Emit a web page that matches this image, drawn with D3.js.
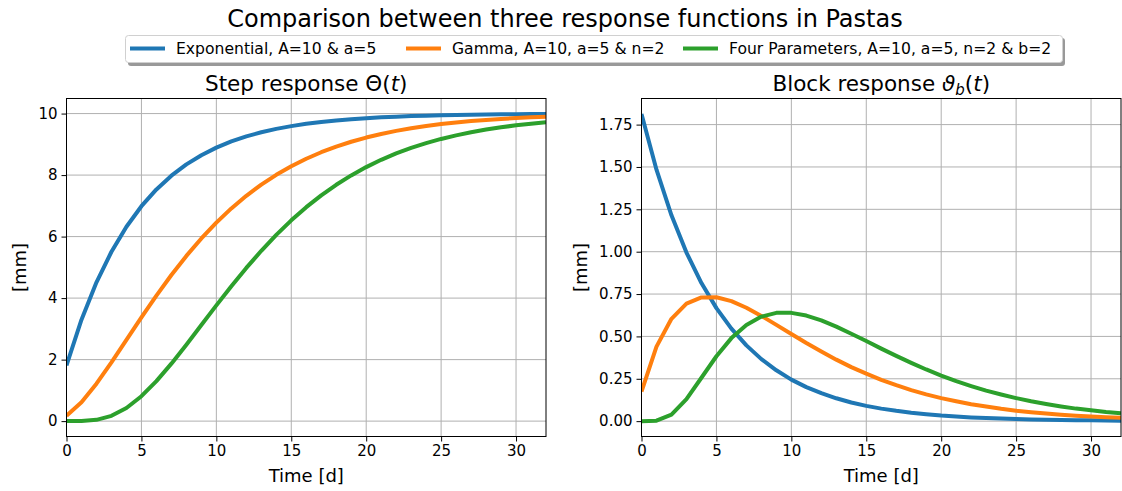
<!DOCTYPE html>
<html><head><meta charset="utf-8">
<script src="https://cdn.jsdelivr.net/npm/d3@7"></script>
<style>
body{margin:0;background:#fff;}
svg{display:block;font-family:"DejaVu Sans",sans-serif;}
</style></head>
<body><svg id="c" width="1122" height="491"></svg>
<script>
const time = d3.range(0, 33);
const seriesNames = ["Exponential, A=10 & a=5", "Gamma, A=10, a=5 & n=2", "Four Parameters, A=10, a=5, n=2 & b=2"];
const colors = ["#1f77b4", "#ff7f0e", "#2ca02c"];
const stepExp = [1.813,3.297,4.512,5.507,6.321,6.988,7.534,7.981,8.347,8.647,8.892,9.093,9.257,9.392,9.502,9.592,9.666,9.727,9.776,9.817,9.850,9.877,9.900,9.918,9.933,9.945,9.955,9.963,9.970,9.975,9.980,9.983,9.986];
const stepGamma = [0.175,0.616,1.219,1.912,2.642,3.374,4.082,4.751,5.372,5.940,6.454,6.916,7.326,7.689,8.009,8.288,8.532,8.743,8.926,9.084,9.220,9.337,9.437,9.523,9.596,9.658,9.711,9.756,9.794,9.827,9.854,9.877,9.897];
const stepFour = [0.000,0.003,0.042,0.172,0.428,0.810,1.300,1.868,2.485,3.124,3.763,4.386,4.981,5.539,6.055,6.528,6.956,7.342,7.685,7.990,8.259,8.496,8.703,8.883,9.039,9.175,9.292,9.393,9.479,9.554,9.617,9.671,9.718];
const blockExp = [1.813,1.484,1.215,0.995,0.815,0.667,0.546,0.447,0.366,0.300,0.245,0.201,0.165,0.135,0.110,0.090,0.074,0.061,0.050,0.041,0.033,0.027,0.022,0.018,0.015,0.012,0.010,0.008,0.007,0.006,0.005,0.004,0.003];
const blockGamma = [0.175,0.440,0.604,0.693,0.730,0.731,0.708,0.669,0.621,0.568,0.514,0.461,0.411,0.363,0.319,0.280,0.244,0.212,0.183,0.158,0.136,0.117,0.100,0.086,0.073,0.062,0.053,0.045,0.038,0.032,0.027,0.023,0.020];
const blockFour = [0.000,0.003,0.039,0.130,0.256,0.383,0.490,0.568,0.617,0.639,0.639,0.623,0.595,0.558,0.516,0.473,0.428,0.385,0.344,0.305,0.269,0.236,0.207,0.180,0.157,0.136,0.117,0.101,0.087,0.074,0.064,0.054,0.046];
const xTicks = [0,5,10,15,20,25,30];
const stepTicks = [0,2,4,6,8,10];
const blockTicks = [0,0.25,0.5,0.75,1,1.25,1.5,1.75];
const suptitle = "Comparison between three response functions in Pastas";
const xLabel = "Time [d]";
const yLabel = "[mm]";

const svg = d3.select("#c");
svg.append("text").attr("x", 565).attr("y", 27).attr("text-anchor","middle")
  .attr("font-size", 24).attr("fill","#000").text(suptitle);

function panel(x0, x1, y0, y1, data, yDomain, yTicks, fmt, yLabX, titleFn){
  const x = d3.scaleLinear().domain([0,32]).range([x0,x1]);
  const y = d3.scaleLinear().domain(yDomain).range([y1,y0]);
  const g = svg.append("g");
  const clipId = "clip"+Math.round(x0);
  svg.append("clipPath").attr("id",clipId).append("rect")
    .attr("x",x0).attr("y",y0).attr("width",x1-x0).attr("height",y1-y0);
  g.append("g").selectAll("line").data(xTicks).join("line")
    .attr("x1",d=>x(d)).attr("x2",d=>x(d)).attr("y1",y0).attr("y2",y1)
    .attr("stroke","#b0b0b0").attr("stroke-width",1);
  g.append("g").selectAll("line").data(yTicks).join("line")
    .attr("y1",d=>y(d)).attr("y2",d=>y(d)).attr("x1",x0).attr("x2",x1)
    .attr("stroke","#b0b0b0").attr("stroke-width",1);
  const line = d3.line().x((d,i)=>x(time[i])).y(d=>y(d));
  g.append("g").attr("clip-path",`url(#${clipId})`).selectAll("path").data(data).join("path")
    .attr("d",d=>line(d)).attr("fill","none").attr("stroke",(d,i)=>colors[i])
    .attr("stroke-width",4).attr("stroke-linejoin","round").attr("stroke-linecap","butt");
  const xa = g.append("g").attr("transform",`translate(0,${y1})`)
    .call(d3.axisBottom(x).tickValues(xTicks).tickSize(5).tickPadding(4).tickFormat(d3.format("d")));
  const ya = g.append("g").attr("transform",`translate(${x0},0)`)
    .call(d3.axisLeft(y).tickValues(yTicks).tickSize(5).tickPadding(4).tickFormat(fmt));
  [xa,ya].forEach(a=>{
    a.select(".domain").remove();
    a.selectAll("text").attr("font-size",15).attr("font-family","DejaVu Sans").attr("fill","#000");
    a.selectAll("line").attr("stroke","#000").attr("stroke-width",1);
  });
  g.append("rect").attr("x",x0).attr("y",y0).attr("width",x1-x0).attr("height",y1-y0)
    .attr("fill","none").attr("stroke","#000").attr("stroke-width",1);
  g.append("text").attr("x",(x0+x1)/2).attr("y",482).attr("text-anchor","middle")
    .attr("font-size",18).attr("fill","#000").text(xLabel);
  g.append("text").attr("transform",`translate(${yLabX},${(y0+y1)/2}) rotate(-90)`)
    .attr("text-anchor","middle").attr("font-size",18).attr("fill","#000").text(yLabel);
  const t = g.append("text").attr("x",(x0+x1)/2).attr("y",91).attr("text-anchor","middle")
    .attr("font-size",21.5).attr("fill","#000");
  titleFn(t);
}

panel(66.5, 546, 98.5, 436.5, [stepExp, stepGamma, stepFour], [-0.5, 10.49], stepTicks, d3.format("d"), 26, t=>{
  t.append("tspan").text("Step response Θ(");
  t.append("tspan").attr("font-style","italic").text("t");
  t.append("tspan").text(")");
});
panel(641.5, 1121, 98.5, 436.5, [blockExp, blockGamma, blockFour], [-0.0906, 1.904], blockTicks, d3.format(".2f"), 587, t=>{
  t.append("tspan").text("Block response ");
  t.append("tspan").attr("font-style","italic").text("ϑ");
  t.append("tspan").attr("font-style","italic").attr("font-size",15).attr("dy",4).text("b");
  t.append("tspan").attr("dy",-4).text("(");
  t.append("tspan").attr("font-style","italic").text("t");
  t.append("tspan").text(")");
});

const lg = svg.append("g");
lg.append("rect").attr("x",128).attr("y",38).attr("width",937).attr("height",28)
  .attr("rx",3).attr("fill","#999");
lg.append("rect").attr("x",125.5).attr("y",35.5).attr("width",937).attr("height",27)
  .attr("rx",3).attr("fill","#fff").attr("stroke","#d0d0d0").attr("stroke-width",1);
const itemX = [130, 406, 683];
seriesNames.forEach((n,i)=>{
  lg.append("line").attr("x1",itemX[i]).attr("x2",itemX[i]+35).attr("y1",48.5).attr("y2",48.5)
    .attr("stroke",colors[i]).attr("stroke-width",4);
  lg.append("text").attr("x",itemX[i]+46).attr("y",54).attr("font-size",15.6).attr("fill","#000").text(n);
});
</script></body></html>
